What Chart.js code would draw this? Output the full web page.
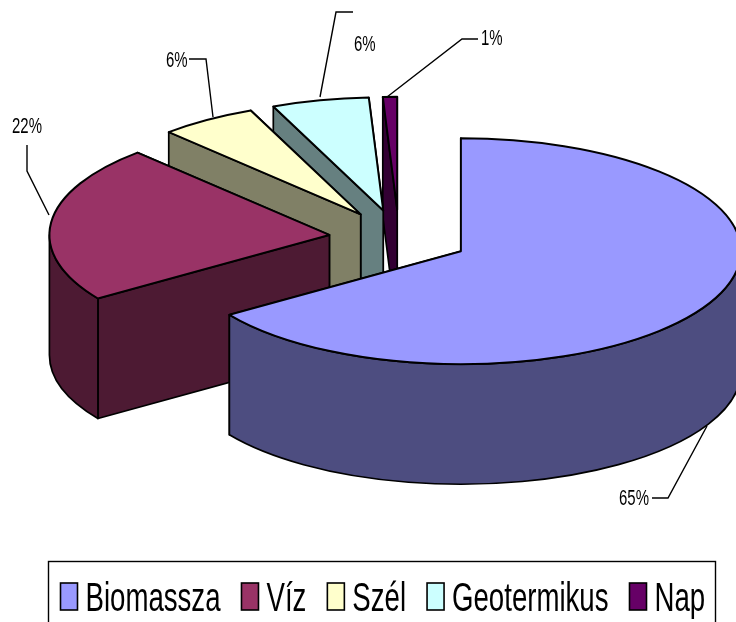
<!DOCTYPE html>
<html>
<head>
<meta charset="utf-8">
<title>Megújuló energiaforrások</title>
<style>
  html, body { margin: 0; padding: 0; background: #fff; overflow: hidden; }
  canvas { display: block; }
</style>
<script src="https://cdn.jsdelivr.net/npm/chart.js@4"></script>
</head>
<body>
<canvas id="pie" width="736" height="622"></canvas>
<script>
const categories = ['Biomassza', 'Víz', 'Szél', 'Geotermikus', 'Nap'];
const values = [65.49, 22.49, 5.6, 5.6, 0.82];
const topColors = ['#9999ff', '#993366', '#ffffcc', '#ccffff', '#660066'];
const sideColors = ['#4d4d80', '#4d1a33', '#808066', '#668080', '#330033'];

const squash = 0.4036; // ellipse height / width of the tilted pie
const depth = 120;
const explode = 70;
const fontName = '"Liberation Sans", Arial, sans-serif';

// where the percent labels and their leader lines sit
const labelSpots = [
  { x: 619, y: 505, line: [[707, 426], [668, 498], [652, 498]] },
  { x: 12, y: 133, line: [[27, 145], [27, 171], [49, 215]] },
  { x: 166, y: 67, line: [[189, 59], [206, 59], [213, 117]] },
  { x: 354, y: 51, line: [[353, 12], [336, 12], [320, 97]] },
  { x: 481, y: 45, line: [[478, 39], [462, 39], [387, 97]] }
];

// narrow text, the original is squeezed sideways
function narrowText(ctx, text, x, y, size, stretch) {
  ctx.save();
  ctx.translate(x, y);
  ctx.scale(stretch, 1);
  ctx.font = size + 'px ' + fontName;
  ctx.fillStyle = '#000';
  ctx.textAlign = 'left';
  ctx.textBaseline = 'alphabetic';
  ctx.fillText(text, 0, 0);
  const w = ctx.measureText(text).width * stretch;
  ctx.restore();
  return w;
}

function centerY(chart) {
  return (chart.chartArea.top + chart.chartArea.bottom) / 2;
}

// arc element -> geometry on the screen
function flat(chart, arc) {
  const cy = centerY(chart);
  return {
    x: arc.x,
    y: cy + (arc.y - cy) * squash,
    rx: arc.outerRadius,
    ry: arc.outerRadius * squash,
    start: arc.startAngle,
    end: arc.endAngle
  };
}

function drawQuad(ctx, g, angle) {
  const rimX = g.x + g.rx * Math.cos(angle);
  const rimY = g.y + g.ry * Math.sin(angle);
  ctx.beginPath();
  ctx.moveTo(g.x, g.y);
  ctx.lineTo(rimX, rimY);
  ctx.lineTo(rimX, rimY + depth);
  ctx.lineTo(g.x, g.y + depth);
  ctx.closePath();
  ctx.fill();
  ctx.stroke();
}

const tiltedPie = {
  id: 'tiltedPie',
  afterDatasetsUpdate(chart) {
    chart.getDatasetMeta(0).data.forEach(arc => {
      const mid = (arc.startAngle + arc.endAngle) / 2;
      arc.x += Math.cos(mid) * explode;
      arc.y += Math.sin(mid) * explode;
    });
  },
  beforeDatasetsDraw(chart) {
    const ctx = chart.ctx;
    const arcs = chart.getDatasetMeta(0).data;
    ctx.save();
    ctx.strokeStyle = '#000';
    ctx.lineWidth = 1.7;
    ctx.lineJoin = 'round';
    // back slices first so the front ones cover them
    for (let i = arcs.length - 1; i >= 0; i--) {
      const g = flat(chart, arcs[i]);
      ctx.fillStyle = sideColors[i];
      drawQuad(ctx, g, g.end);
      drawQuad(ctx, g, g.start);
      const a0 = Math.max(g.start, 0);
      const a1 = Math.min(g.end, Math.PI);
      if (a1 > a0) {
        ctx.beginPath();
        ctx.ellipse(g.x, g.y, g.rx, g.ry, 0, a0, a1);
        ctx.ellipse(g.x, g.y + depth, g.rx, g.ry, 0, a1, a0, true);
        ctx.closePath();
        ctx.fill();
        ctx.stroke();
      }
    }
    ctx.restore();
    // the library paints the tops, flattened
    const cy = centerY(chart);
    ctx.save();
    ctx.translate(0, cy);
    ctx.scale(1, squash);
    ctx.translate(0, -cy);
  },
  afterDatasetsDraw(chart) {
    const ctx = chart.ctx;
    ctx.restore();
    ctx.save();
    ctx.strokeStyle = '#000';
    ctx.lineWidth = 2;
    ctx.lineJoin = 'round';
    chart.getDatasetMeta(0).data.forEach(arc => {
      const g = flat(chart, arc);
      ctx.beginPath();
      ctx.moveTo(g.x, g.y);
      ctx.ellipse(g.x, g.y, g.rx, g.ry, 0, g.start, g.end);
      ctx.closePath();
      ctx.stroke();
    });
    ctx.restore();
  },
  afterDraw(chart) {
    const ctx = chart.ctx;
    ctx.save();
    // percent labels
    ctx.strokeStyle = '#000';
    ctx.lineWidth = 1.4;
    values.forEach((v, i) => {
      const spot = labelSpots[i];
      ctx.beginPath();
      spot.line.forEach((p, j) => j ? ctx.lineTo(p[0], p[1]) : ctx.moveTo(p[0], p[1]));
      ctx.stroke();
      narrowText(ctx, Math.round(v) + '%', spot.x, spot.y, 22, 0.68);
    });
    // legend, its frame runs off the bottom of the picture
    ctx.lineWidth = 1.4;
    ctx.strokeRect(48.5, 561.5, 667, 70);
    let x = 60.5;
    categories.forEach((name, i) => {
      ctx.fillStyle = topColors[i];
      ctx.lineWidth = 1.6;
      ctx.fillRect(x, 583, 17, 27);
      ctx.strokeRect(x, 583, 17, 27);
      const w = narrowText(ctx, name, x + 25, 611, 40, 0.69);
      x += 25 + w + 21;
    });
    ctx.restore();
  }
};

new Chart(document.getElementById('pie'), {
  type: 'pie',
  data: {
    labels: categories,
    datasets: [{
      data: values,
      backgroundColor: topColors,
      borderWidth: 0,
      clip: false
    }]
  },
  options: {
    responsive: false,
    animation: false,
    events: [],
    radius: 280,
    layout: { padding: { left: 62, bottom: 146 } },
    plugins: {
      legend: { display: false },
      tooltip: { enabled: false }
    }
  },
  plugins: [tiltedPie]
});
</script>
</body>
</html>
